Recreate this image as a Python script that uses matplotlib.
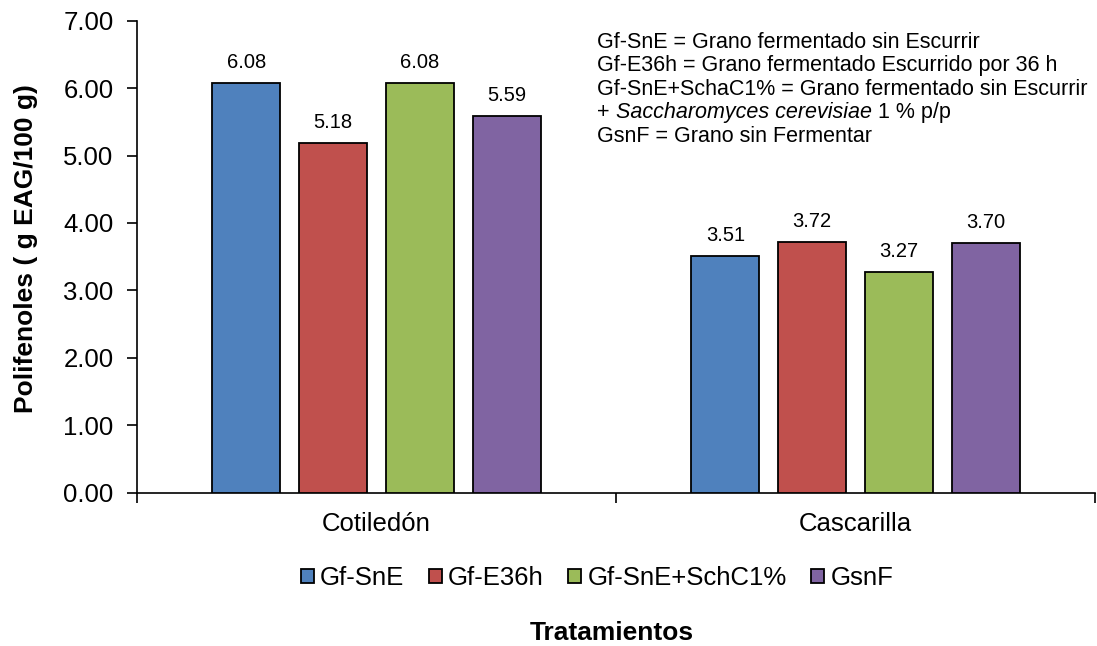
import matplotlib
matplotlib.use("Agg")
import matplotlib.pyplot as plt
import numpy as np

plt.rcParams['font.family'] = ['Liberation Sans', 'DejaVu Sans']

categories = ["Cotiledón", "Cascarilla"]
series_names = ["Gf-SnE", "Gf-E36h", "Gf-SnE+SchC1%", "GsnF"]
values = {
    "Gf-SnE": [6.08, 3.51],
    "Gf-E36h": [5.18, 3.72],
    "Gf-SnE+SchC1%": [6.08, 3.27],
    "GsnF": [5.59, 3.70],
}
colors = ["#4F81BD", "#C0504D", "#9BBB59", "#8064A2"]
yticks = [0, 1, 2, 3, 4, 5, 6, 7]

W, H = 1097, 646
fig = plt.figure(figsize=(W / 100, H / 100), dpi=100)
ax = fig.add_axes([137 / W, 1 - 492.5 / H, 958 / W, (492.5 - 20.7) / H])

centers = np.arange(len(categories)) + 0.5
pitch = 0.181
bw = 0.142
for i, name in enumerate(series_names):
    xs = centers + (i - 1.5) * pitch
    ax.bar(xs, values[name], width=bw, color=colors[i], edgecolor='black',
           linewidth=1.3, label=name, zorder=3)
    for x, v in zip(xs, values[name]):
        ax.annotate(f"{v:.2f}", xy=(x, v), xytext=(0, 8), textcoords='offset points',
                    ha='center', va='bottom', fontsize=14.5)

ax.set_xlim(0, 2)
ax.set_ylim(0, 7)
ax.set_yticks(yticks)
ax.set_yticklabels([f"{t:.2f}" for t in yticks])
ax.set_xticks([0, 1, 2])
ax.set_xticklabels([])
ax.set_xticks(centers, minor=True)
ax.set_xticklabels(categories, minor=True)
ax.tick_params(axis='x', which='major', length=7, width=1.2, direction='out')
ax.tick_params(axis='x', which='minor', length=0, pad=14, labelsize=18.5)
ax.tick_params(axis='y', length=7, width=1.2, direction='out', pad=10, labelsize=18.5)
for s in ['top', 'right']:
    ax.spines[s].set_visible(False)
for s in ['left', 'bottom']:
    ax.spines[s].set_linewidth(1.2)

ax.set_ylabel("Polifenoles ( g EAG/100 g)", fontsize=19, fontweight='bold')
ax.yaxis.set_label_coords(-0.1035, 0.518)

fig.text(612 / W, 1 - 633 / H, "Tratamientos", ha='center', va='center',
         fontsize=19, fontweight='bold')

handles, labels = ax.get_legend_handles_labels()
fig.legend(handles, labels, loc='center', bbox_to_anchor=(597 / W, 1 - 578 / H),
           ncol=4, frameon=False, fontsize=18.5, handlelength=0.5, handleheight=0.5,
           handletextpad=0.25, columnspacing=0.95, borderaxespad=0)

# annotation block
fs = 15.5
x0 = 597 / W
baselines = [48, 71.5, 95, 118, 141.5]
lines = ["Gf-SnE = Grano fermentado sin Escurrir",
         "Gf-E36h = Grano fermentado Escurrido por 36 h",
         "Gf-SnE+SchaC1% = Grano fermentado sin Escurrir",
         None,
         "GsnF = Grano sin Fermentar"]
for b, t in zip(baselines, lines):
    if t is not None:
        fig.text(x0, 1 - b / H, t, ha='left', va='baseline', fontsize=fs)
t1 = fig.text(x0, 1 - baselines[3] / H, "+", ha='left', va='baseline', fontsize=fs)
t2 = ax.annotate("Saccharomyces cerevisiae", xy=(1, 0), xycoords=t1,
                 xytext=(6, 0), textcoords='offset pixels',
                 ha='left', va='bottom', fontsize=fs, style='italic')
t3 = ax.annotate("1 % p/p", xy=(1, 0), xycoords=t2,
                 xytext=(6, 0), textcoords='offset pixels',
                 ha='left', va='bottom', fontsize=fs)

fig.savefig("out.png", dpi=100)
